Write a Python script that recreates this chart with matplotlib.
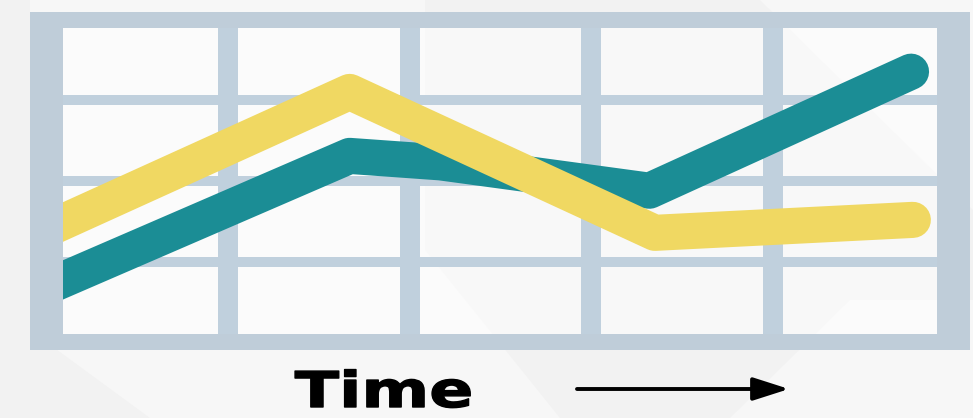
import matplotlib
matplotlib.use("Agg")
import matplotlib.pyplot as plt
from matplotlib.patches import Polygon, Rectangle, FancyArrowPatch
from matplotlib.transforms import Affine2D
from matplotlib.patheffects import AbstractPathEffect

W, H = 973, 418

# Two trend series (x in grid columns, y in grid rows)
teal_x = [0.0, 1.67, 2.17, 3.32, 4.76]
teal_y = [0.69, 2.31, 2.23, 1.88, 3.35]
gold_x = [0.0, 1.67, 3.35, 4.77]
gold_y = [1.40, 3.10, 1.36, 1.52]

# Grid positions
grid_x = [1, 2, 3, 4]
grid_y = [1, 2, 3]
x_range = (0.092, 4.903)
y_range = (0.111, 3.889)

axis_label = "Time"

TEAL = "#1b8d95"
GOLD = "#f0d862"
GRID = "#c0d0dd"
FRAME = "#bfcdd9"
BASE = "#f2f2f2"
LIGHT = "#f7f7f7"


def fpt(px, py):
    """Pixel position (origin top-left) -> figure fraction."""
    return (px / W, 1 - py / H)


class HorizontalStretch(AbstractPathEffect):
    """Widen glyphs horizontally around a fixed anchor, with a thin outline."""

    def __init__(self, fig, factor, anchor_x, outline=0.0):
        super().__init__()
        self.fig = fig
        self.factor = factor
        self.anchor_x = anchor_x
        self.outline = outline

    def draw_path(self, renderer, gc, tpath, affine, rgbFace=None):
        cx = self.fig.transFigure.transform((self.anchor_x, 0))[0]
        stretch = Affine2D().translate(-cx, 0).scale(self.factor, 1).translate(cx, 0)
        gc0 = renderer.new_gc()
        gc0.copy_properties(gc)
        if self.outline > 0 and rgbFace is not None:
            gc0.set_foreground(rgbFace)
            gc0.set_linewidth(self.outline)
            gc0.set_joinstyle("round")
        renderer.draw_path(gc0, tpath, affine + stretch, rgbFace)
        gc0.restore()


fig = plt.figure(figsize=(W / 100, H / 100), dpi=100)
fig.patch.set_facecolor(BASE)

# Faint diagonal background shapes
shapes = [
    [(30, 0), (425, 0), (425, 418), (150, 418), (30, 330)],
    [(425, 250), (560, 418), (425, 418)],
    [(760, 0), (973, 0), (973, 210)],
    [(730, 418), (850, 300), (973, 300), (973, 418)],
]
for pts in shapes:
    fig.patches.append(Polygon([fpt(*p) for p in pts], closed=True,
                               transform=fig.transFigure, facecolor=LIGHT,
                               edgecolor="none", zorder=-10))

# Chart frame (outer 30..970 x 12..350, inner 63..937 x 28..334)
frame_parts = [
    (30, 12, 940, 16),
    (30, 334, 940, 16),
    (30, 12, 33, 338),
    (937, 12, 33, 338),
]
for (x0, y0, w, h) in frame_parts:
    fx0, fy1 = fpt(x0, y0 + h)
    fig.patches.append(Rectangle((fx0, fy1), w / W, h / H, transform=fig.transFigure,
                                 facecolor=FRAME, edgecolor="none", zorder=-5))
ix0, iy0 = fpt(63, 334)
fig.patches.append(Rectangle((ix0, iy0), 874 / W, 306 / H, transform=fig.transFigure,
                             facecolor="white", alpha=0.5, edgecolor="none", zorder=-6))

ax = fig.add_axes([63 / W, 1 - 334 / H, 874 / W, 306 / H])
ax.set_xlim(*x_range)
ax.set_ylim(*y_range)
ax.axis("off")

for gx in grid_x:
    ax.axvline(gx, color=GRID, lw=14.4, zorder=1)
for gy in grid_y:
    ax.axhline(gy, color=GRID, lw=7.2, zorder=1)

ax.plot(teal_x, teal_y, color=TEAL, lw=26, solid_capstyle="round",
        solid_joinstyle="round", zorder=3)
ax.plot(gold_x, gold_y, color=GOLD, lw=26, solid_capstyle="round",
        solid_joinstyle="round", zorder=4)

# Axis caption and direction arrow below the chart
lx, ly = fpt(384, 407)
fig.text(lx, ly, axis_label, ha="center", va="baseline", fontsize=35.5,
         fontweight="bold", family="DejaVu Sans", color="black",
         path_effects=[HorizontalStretch(fig, 1.32, lx, outline=1.0)])

arrow = FancyArrowPatch(fpt(577, 389), fpt(789, 389), transform=fig.transFigure,
                        arrowstyle="-|>,head_length=1.0,head_width=0.32",
                        mutation_scale=22, lw=2.8, color="black",
                        shrinkA=0, shrinkB=0)
fig.patches.append(arrow)

fig.savefig("out.png", dpi=100, facecolor=fig.get_facecolor())
